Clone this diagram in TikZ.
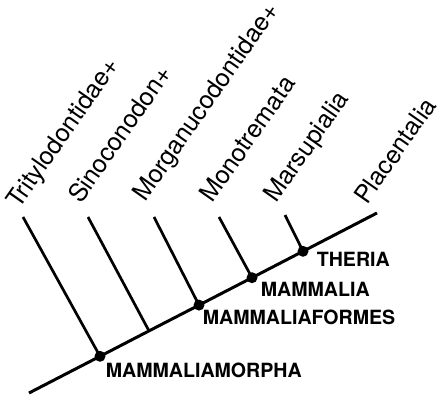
\documentclass[tikz,border=0pt]{standalone}
\usepackage{fontspec}
\setmainfont{TeX Gyre Heros}
\begin{document}
\begin{tikzpicture}[x = 1pt, y = -1pt]
    \useasboundingbox (0,0) rectangle (441,395);
    \tikzset{stem/.style = {line width = 3pt}}
    \tikzset{twig/.style = {line width = 2.7pt}}
    \tikzset{dot/.style = {circle, fill, inner sep = 0pt, minimum size = 11pt}}
    \tikzset{taxon/.style = {font = \fontsize{25}{30}\selectfont, anchor = base west, inner sep = 0pt, rotate = 55}}
    \tikzset{clade/.style = {font = \bfseries\fontsize{19.6}{24}\selectfont, anchor = base west, inner sep = 0pt}}
    % stem and nodes
    \coordinate (root) at (29,393);
    \coordinate (tplac) at (377,213);
    \node[dot] (nmorpha) at (100,356.3) {};
    \coordinate (jsino) at (149,330.9);
    \node[dot] (nformes) at (199,305.1) {};
    \node[dot] (nmamm) at (252,277.7) {};
    \node[dot] (nther) at (303,251.3) {};
    \draw[stem] (root) -- (nmorpha.center) -- (jsino) -- (nformes.center) -- (nmamm.center) -- (nther.center) -- (tplac);
    % branch tips
    \coordinate (ttrit) at (23,217);
    \coordinate (tsino) at (88,217);
    \coordinate (tmorg) at (154,217);
    \coordinate (tmono) at (219,217);
    \coordinate (tmars) at (285,215);
    \draw[twig] (nmorpha.center) -- (ttrit);
    \draw[twig] (jsino) -- (tsino);
    \draw[twig] (nformes.center) -- (tmorg);
    \draw[twig] (nmamm.center) -- (tmono);
    \draw[twig] (nther.center) -- (tmars);
    % taxa
    \node[taxon] (ltrit) at (19,210) {Tritylodontidae+};
    \node[taxon] (lsino) at (81,205) {Sinoconodon+};
    \node[taxon] (lmorg) at (145,203) {Morganucodontidae+};
    \node[taxon] (lmono) at (212,204) {Monotremata};
    \node[taxon] (lmars) at (276,204) {Marsupialia};
    \node[taxon] (lplac) at (367,206) {Placentalia};
    % clades
    \node[clade] (lther) at (316.6,266) {THERIA};
    \node[clade] (lmamm) at (260.6,296) {MAMMALIA};
    \node[clade] (lformes) at (202.6,324) {MAMMALIAFORMES};
    \node[clade] (lmorpha) at (105.6,377) {MAMMALIAMORPHA};
\end{tikzpicture}
\end{document}
